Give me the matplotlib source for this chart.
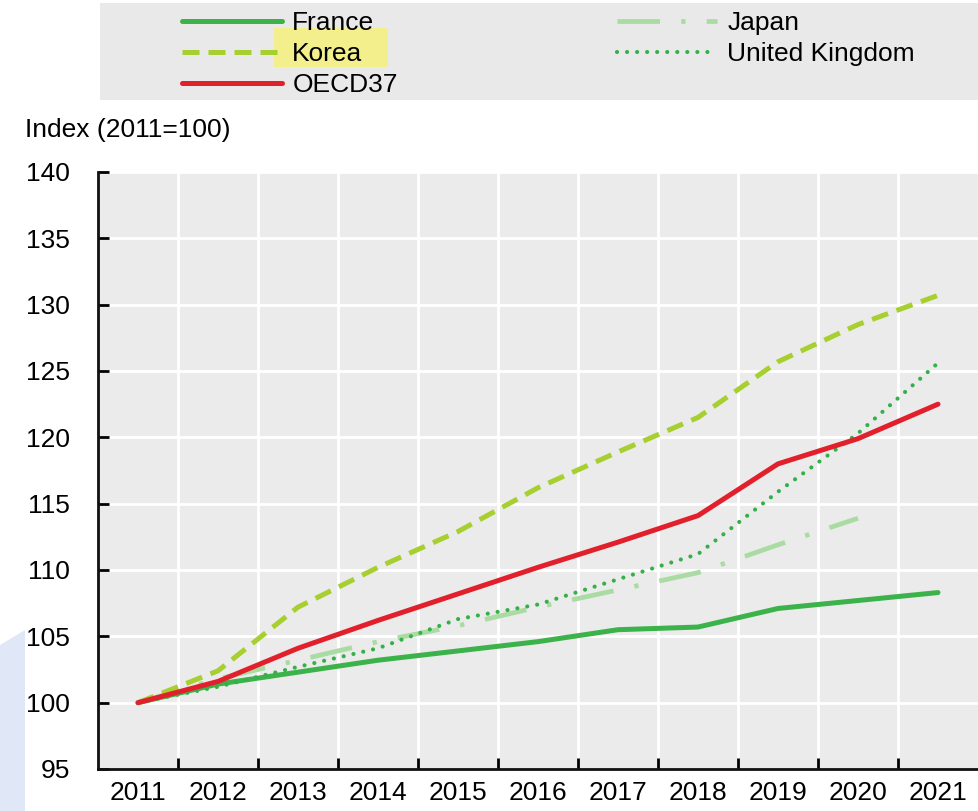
import matplotlib
matplotlib.use("Agg")
import matplotlib.pyplot as plt
from matplotlib.patches import Rectangle, Polygon
import numpy as np

plt.rcParams['font.family'] = ['Liberation Sans', 'DejaVu Sans']

# data
YEARS = ['2011', '2012', '2013', '2014', '2015', '2016', '2017', '2018', '2019', '2020', '2021']
FRANCE = [100, 101.4, 102.3, 103.2, 103.9, 104.6, 105.5, 105.7, 107.1, 107.7, 108.3]
KOREA = [100, 102.4, 107.2, 110.2, 112.9, 116.2, 118.9, 121.5, 125.7, 128.5, 130.7]
OECD37 = [100, 101.6, 104.1, 106.2, 108.2, 110.2, 112.1, 114.1, 118.0, 119.9, 122.5]
JAPAN = [100, 101.8, 103.2, 104.6, 105.8, 107.2, 108.5, 109.8, 111.9, 113.9, np.nan]
UK = [100, 101.2, 102.7, 104.1, 106.3, 107.4, 109.3, 111.2, 115.9, 120.3, 125.6]
Y_TICKS = [95, 100, 105, 110, 115, 120, 125, 130, 135, 140]

FS = 19
W, H = 979, 811
FIG = plt.figure(figsize=(W / 100, H / 100), dpi=100)
AX = FIG.add_axes([98 / W, 1 - 769 / H, (978 - 98) / W, (769 - 172) / H])
AX.set_facecolor('#ebebeb')

x = np.arange(len(YEARS))
# draw order: France, Japan, UK, Korea, OECD on top
AX.plot(x, FRANCE, color='#3cb34a', lw=3.6, solid_capstyle='round', label='France', zorder=3)
AX.plot(x, JAPAN, color='#a9dba2', lw=3.4, dashes=(9.0, 4.5, 0.9, 4.5), label='Japan', zorder=3)
AX.plot(x, UK, color='#35b048', lw=3.0, dashes=(0.01, 2.4), dash_capstyle='round', label='United Kingdom', zorder=3)
AX.plot(x, KOREA, color='#a6cf2f', lw=3.6, dashes=(3.4, 1.8), label='Korea', zorder=3)
AX.plot(x, OECD37, color='#e2202c', lw=3.6, solid_capstyle='round', label='OECD37', zorder=4)

AX.set_xlim(-0.5, 10.5)
AX.set_ylim(95, 140)
AX.set_yticks(Y_TICKS)
AX.set_xticks(x)
AX.set_xticklabels(YEARS)
AX.set_xticks(np.arange(0.5, 10.5, 1), minor=True)

AX.grid(False)
for yv in Y_TICKS[1:]:
    AX.axhline(yv, color='white', lw=2, zorder=1)
for xv in np.arange(0.5, 10.5, 1):
    AX.axvline(xv, color='white', lw=2, zorder=1)

for s in ['top', 'right']:
    AX.spines[s].set_visible(False)
for s in ['left', 'bottom']:
    AX.spines[s].set_linewidth(2)
    AX.spines[s].set_color('#111111')

AX.tick_params(axis='y', direction='in', length=8, width=2, pad=20, labelsize=FS)
AX.tick_params(axis='x', which='major', length=0, pad=9, labelsize=FS)
AX.tick_params(axis='x', which='minor', direction='in', length=8, width=2)

# legend band
FIG.patches.append(Rectangle((100 / W, 1 - 100 / H), 879 / W, 97 / H, transform=FIG.transFigure,
                             facecolor='#e9e9e9', edgecolor='none', zorder=0))
FIG.patches.append(Rectangle((274 / W, 1 - 67 / H), 114 / W, 39 / H, transform=FIG.transFigure,
                             facecolor='#f2ef8c', edgecolor='none', zorder=1))
# light blue shape bottom-left
FIG.patches.append(Polygon([(0, 1 - 645 / H), (25 / W, 1 - 630 / H), (25 / W, 0), (0, 0)],
                           closed=True, transform=FIG.transFigure, facecolor='#e0e7f7',
                           edgecolor='none', zorder=0))

h, l = AX.get_legend_handles_labels()
order = [l.index(n) for n in ['France', 'Korea', 'OECD37', 'Japan', 'United Kingdom']]
LEG = FIG.legend([h[i] for i in order], [l[i] for i in order], ncol=2, loc='upper left',
                 bbox_to_anchor=(182 / W, 1 - 11 / H), frameon=False, fontsize=FS,
                 handlelength=3.8, handletextpad=0.38, columnspacing=8.3,
                 labelspacing=0.265, borderpad=0, borderaxespad=0)
LEG.set_zorder(5)

FIG.text(25 / W, 1 - 130 / H, 'Index (2011=100)', fontsize=FS, va='center', ha='left')

FIG.savefig('out.png', dpi=100)
